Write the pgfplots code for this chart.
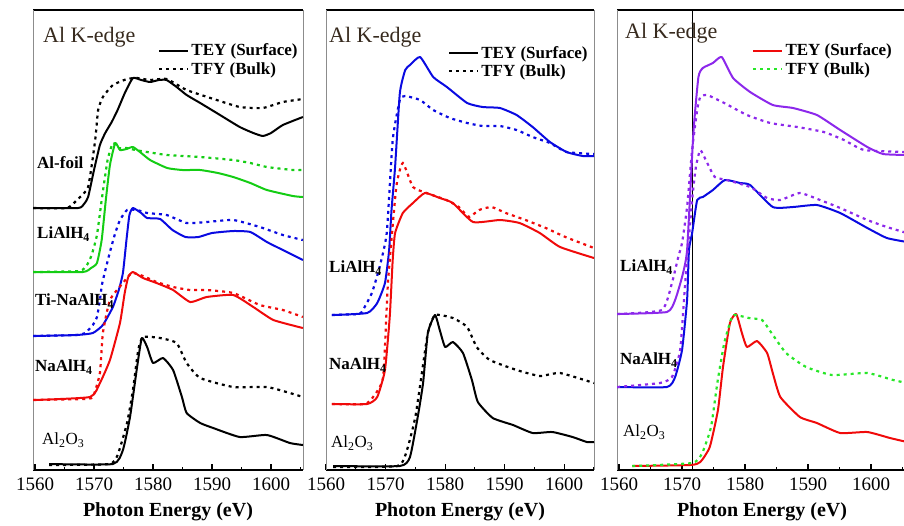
\documentclass[border=0pt]{standalone}
\usepackage{fontspec}
\setmainfont{Liberation Serif}
\usepackage{pgfplots}
\pgfplotsset{compat=1.18}

\definecolor{tgreen}{RGB}{20,205,20}
\definecolor{lgreen}{RGB}{40,230,40}
\definecolor{tblue}{RGB}{10,10,225}
\definecolor{tred}{RGB}{240,10,10}
\definecolor{tpurple}{RGB}{140,40,235}
\definecolor{titlecol}{RGB}{55,42,30}

\tikzset{
  tey/.style={line width=2pt, line join=round},
  tfy/.style={line width=2.2pt, dash pattern=on 3pt off 4pt},
}

\pgfplotsset{
  panel/.style={
    scale only axis, height=460pt, anchor=south west,
    y dir=reverse, ymin=10, ymax=470, ytick=\empty,
    xtick={1560,1570,...,1600}, minor xtick={1565,1575,...,1605},
    xtick pos=bottom, tick align=inside,
    major tick length=6pt, minor tick length=3.5pt,
    every tick/.style={black, line width=1.2pt},
    separate axis lines,
    x axis line style={line width=1.6pt, black},
    y axis line style={line width=0.6pt, black!45},
    /pgf/number format/assume math mode=true,
    /pgf/number format/1000 sep={},
    xticklabel style={font=\fontsize{19}{19}\selectfont, yshift=-4pt},
    xlabel={Photon Energy (eV)},
    xlabel style={font=\fontsize{20}{20}\selectfont\bfseries,
      at={(axis description cs:0.5,0)}, anchor=center, yshift=-42pt},
    legend style={draw=none, fill=none, font=\fontsize{17}{17}\selectfont\bfseries,
      inner sep=0pt, row sep=1pt, cells={anchor=west}, anchor=north west},
    legend image code/.code={\draw[#1] (0pt,0pt) -- (29pt,0pt);},
    every axis plot/.append style={smooth, tension=0.3},
  },
}

\begin{document}
\begin{tikzpicture}
\useasboundingbox (0,0) rectangle (904pt,-525pt);

% ---------------- left panel ----------------
\begin{axis}[panel, at={(33pt,-470pt)}, width=270pt, xmin=1559.66, xmax=1605.42,
  legend style={at={(axis description cs:0.463,0.931)}}]
\addlegendimage{tey, black}\addlegendentry{TEY (Surface)}
\addlegendimage{tfy, black}\addlegendentry{TFY (Bulk)}
% Al-foil
\addplot[tey, black] coordinates {(1559.7,208)(1567.3,208)(1568.3,204)(1569.0,197)(1570.0,170)(1571.0,145)(1571.9,133)(1573.0,122)(1574.0,110)(1575.3,92)(1576.6,78)(1578.0,80)(1579.5,82)(1581.0,80)(1582.3,80)(1584.0,87)(1585.7,95)(1588.0,103)(1590.8,113)(1594.7,127)(1597.0,133)(1598.6,136)(1600.0,133)(1602.0,125)(1605.4,117)};
\addplot[tfy, black] coordinates {(1559.7,208)(1565.4,208)(1567.1,200)(1569.0,187)(1570.2,140)(1570.7,110)(1571.5,97)(1573.2,85)(1575.6,79)(1577.3,78)(1579.5,80)(1582.3,79)(1585.7,90)(1590.8,100)(1594.7,107)(1598.6,108)(1602.0,102)(1605.4,99)};
% LiAlH4
\addplot[tey, tgreen] coordinates {(1559.7,272)(1568.1,272)(1569.5,268)(1570.5,263)(1571.3,240)(1572.0,200)(1572.7,165)(1573.6,143)(1574.4,150)(1575.5,149)(1576.6,147)(1578.0,153)(1579.5,160)(1582.4,168)(1585.0,170)(1588.0,170)(1591.0,173)(1593.6,177)(1596.5,183)(1599.3,190)(1603.7,196)(1605.4,197)};
\addplot[tfy, tgreen] coordinates {(1559.7,272)(1567.5,271)(1568.8,265)(1569.6,255)(1570.5,235)(1571.3,200)(1572.3,160)(1573.2,143)(1574.0,148)(1575.5,148)(1577.0,150)(1579.0,152)(1582.4,155)(1588.0,157)(1593.6,160)(1596.5,163)(1599.3,167)(1603.7,170)(1605.4,170)};
% Ti-NaAlH4
\addplot[tey, tblue] coordinates {(1559.7,336)(1567.0,335)(1569.8,333)(1571.5,325)(1573.2,307)(1574.2,290)(1574.9,273)(1575.5,240)(1576.0,215)(1576.6,208)(1578.0,213)(1579.0,218)(1581.2,219)(1583.3,230)(1585.5,237)(1587.7,237)(1590.0,233)(1593.6,231)(1596.5,232)(1599.3,242)(1602.0,250)(1605.4,260)};
\addplot[tfy, tblue] coordinates {(1559.7,336)(1567.0,335)(1568.5,333)(1569.8,325)(1570.5,317)(1571.0,300)(1571.4,283)(1572.7,252)(1573.6,233)(1574.4,220)(1575.6,210)(1577.3,210)(1579.0,213)(1582.3,215)(1585.7,223)(1589.1,222)(1593.6,220)(1598.1,227)(1602.0,235)(1605.4,240)};
% NaAlH4
\addplot[tey, tred] coordinates {(1559.7,400)(1569.3,397)(1571.0,383)(1572.7,360)(1574.4,323)(1575.2,293)(1575.8,277)(1576.6,272)(1578.3,278)(1580.6,283)(1583.4,290)(1586.3,302)(1589.1,297)(1593.6,295)(1597.0,307)(1600.4,320)(1605.4,328)};
\addplot[tfy, tred] coordinates {(1559.7,400)(1568.0,399)(1569.8,397)(1571.0,373)(1571.5,333)(1572.7,300)(1574.9,283)(1576.4,273)(1578.3,276)(1580.6,282)(1583.4,287)(1586.3,290)(1589.1,290)(1593.6,293)(1598.1,305)(1602.0,310)(1605.4,317)};
% Al2O3
\addplot[tey, black] coordinates {(1562.4,464)(1573.2,464)(1574.9,450)(1576.1,417)(1577.3,367)(1578.1,338)(1579.0,347)(1580.0,363)(1581.7,358)(1583.4,370)(1584.9,397)(1585.7,413)(1588.0,423)(1590.2,428)(1594.7,437)(1599.3,435)(1603.2,443)(1605.4,445)};
\addplot[tfy, black] coordinates {(1562.4,465)(1572.5,464)(1574.0,455)(1575.6,423)(1576.6,390)(1577.5,350)(1578.3,337)(1581.2,338)(1584.0,343)(1585.7,363)(1588.0,378)(1593.6,387)(1599.3,387)(1603.2,393)(1605.4,397)};
\end{axis}

% ---------------- middle panel ----------------
\begin{axis}[panel, at={(326pt,-470pt)}, width=268pt, xmin=1560, xmax=1605,
  legend style={at={(axis description cs:0.455,0.926)}}]
\addlegendimage{tey, black}\addlegendentry{TEY (Surface)}
\addlegendimage{tfy, black}\addlegendentry{TFY (Bulk)}
% LiAlH4
\addplot[tey, tblue] coordinates {(1561.0,315)(1566.9,313)(1568.6,303)(1569.9,283)(1570.6,250)(1571.0,210)(1571.6,167)(1572.4,93)(1573.3,70)(1574.1,65)(1575.8,57)(1578.0,77)(1580.3,87)(1583.7,103)(1586.3,107)(1589.2,108)(1592.0,115)(1594.7,127)(1597.6,142)(1600.4,152)(1603.1,156)(1605.0,156)};
\addplot[tfy, tblue] coordinates {(1561.0,315)(1565.5,314)(1566.2,310)(1567.7,293)(1569.0,267)(1570.2,233)(1571.2,140)(1572.4,100)(1573.3,96)(1575.8,100)(1578.0,110)(1580.8,118)(1583.7,123)(1586.3,126)(1589.2,126)(1592.0,130)(1594.7,137)(1597.6,143)(1600.4,152)(1605.0,154)};
% NaAlH4
\addplot[tey, tred] coordinates {(1561.0,404)(1566.9,404)(1568.6,397)(1569.9,370)(1570.7,317)(1571.2,260)(1571.6,233)(1572.9,213)(1574.6,203)(1576.6,193)(1579.1,198)(1581.3,203)(1584.7,222)(1589.2,220)(1592.5,223)(1595.9,233)(1599.3,247)(1605.0,258)};
\addplot[tfy, tred] coordinates {(1561.0,404)(1566.5,404)(1567.9,397)(1569.6,377)(1570.4,283)(1571.8,187)(1572.9,163)(1574.6,187)(1576.9,193)(1580.2,200)(1582.3,207)(1584.0,217)(1585.7,210)(1587.8,207)(1590.2,213)(1593.5,220)(1596.9,228)(1600.2,237)(1605.0,248)};
% Al2O3
\addplot[tey, black] coordinates {(1561.2,466)(1572.4,466)(1574.1,457)(1575.4,417)(1576.3,383)(1577.1,333)(1578.3,315)(1579.1,330)(1580.0,347)(1581.3,342)(1583.0,353)(1584.5,380)(1585.5,402)(1588.0,418)(1591.4,425)(1594.7,433)(1598.0,432)(1601.4,437)(1603.8,442)(1605.0,442)};
\addplot[tfy, black] coordinates {(1561.2,467)(1572.0,466)(1573.6,450)(1575.0,417)(1576.1,373)(1577.1,333)(1578.3,315)(1581.3,318)(1583.7,327)(1585.3,347)(1587.5,360)(1592.0,370)(1595.9,376)(1599.3,373)(1605.0,383)};
\end{axis}

% ---------------- right panel ----------------
\begin{axis}[panel, at={(617pt,-470pt)}, width=290pt, xmin=1559.68, xmax=1605.7,
  legend style={at={(axis description cs:0.466,0.931)}}]
\addlegendimage{tey, tred}\addlegendentry{TEY (Surface)}
\addlegendimage{tfy, lgreen}\addlegendentry{TFY (Bulk)}
% edge position marker
\addplot[black, line width=0.6pt, sharp plot] coordinates {(1571.6,10)(1571.6,470)};
% LiAlH4
\addplot[tey, tpurple] coordinates {(1559.7,314)(1567.6,312)(1568.9,300)(1570.0,277)(1570.8,250)(1571.8,133)(1572.6,77)(1573.3,68)(1574.9,63)(1576.3,57)(1578.1,78)(1580.8,92)(1584.4,105)(1587.6,108)(1591.4,115)(1595.1,130)(1599.4,147)(1601.9,154)(1605.7,155)};
\addplot[tfy, tpurple] coordinates {(1559.7,314)(1566.8,310)(1568.4,283)(1569.4,257)(1570.0,243)(1570.8,207)(1571.6,150)(1572.4,110)(1572.9,97)(1574.0,95)(1576.7,103)(1580.3,115)(1584.0,123)(1588.3,127)(1592.5,132)(1595.7,140)(1598.9,150)(1605.7,152)};
% NaAlH4
\addplot[tey, tblue] coordinates {(1559.7,387)(1567.6,387)(1568.9,377)(1570.0,350)(1570.8,300)(1571.1,250)(1571.6,233)(1572.4,200)(1573.3,197)(1574.9,190)(1576.8,180)(1579.2,183)(1580.8,185)(1584.4,207)(1587.6,207)(1591.4,205)(1595.1,213)(1599.4,228)(1602.5,238)(1605.7,242)};
\addplot[tfy, tpurple] coordinates {(1559.7,387)(1566.5,383)(1568.4,377)(1569.7,350)(1570.5,283)(1571.6,200)(1572.2,167)(1572.9,150)(1574.0,163)(1575.2,177)(1577.1,180)(1580.8,187)(1583.5,198)(1585.6,200)(1588.7,193)(1591.9,200)(1595.1,208)(1599.4,220)(1602.5,227)(1605.7,233)};
% Al2O3
\addplot[tey, tred] coordinates {(1562.1,466)(1571.3,465)(1572.9,462)(1574.4,447)(1575.7,410)(1576.5,367)(1577.6,323)(1578.6,314)(1579.5,333)(1580.3,347)(1581.9,341)(1583.5,353)(1584.4,373)(1585.6,397)(1588.7,417)(1591.4,423)(1595.1,433)(1599.4,432)(1603.0,438)(1605.7,442)};
\addplot[tfy, lgreen] coordinates {(1562.1,466)(1571.6,463)(1573.2,453)(1574.6,427)(1575.6,383)(1576.7,343)(1577.9,317)(1578.6,315)(1580.6,318)(1582.7,320)(1584.2,333)(1586.5,353)(1589.7,367)(1593.8,375)(1599.4,373)(1603.5,380)(1605.7,383)};
\end{axis}

% ---------------- panel titles and sample names ----------------
\begin{scope}[every node/.style={anchor=west, inner sep=0pt}]
\node[font=\fontsize{22}{22}\selectfont, text=titlecol] at (43pt,-37pt) {Al K-edge};
\node[font=\fontsize{22}{22}\selectfont, text=titlecol] at (329pt,-37pt) {Al K-edge};
\node[font=\fontsize{22}{22}\selectfont, text=titlecol] at (625pt,-33pt) {Al K-edge};

\begin{scope}[every node/.append style={font=\fontsize{17}{17}\selectfont\bfseries}]
\node at (37pt,-163pt) {Al-foil};
\node at (37pt,-234pt) {LiAlH\textsubscript{4}};
\node at (35pt,-301pt) {Ti-NaAlH\textsubscript{4}};
\node at (35pt,-367pt) {NaAlH\textsubscript{4}};
\node at (329pt,-268pt) {LiAlH\textsubscript{4}};
\node at (329pt,-365pt) {NaAlH\textsubscript{4}};
\node at (620pt,-267pt) {LiAlH\textsubscript{4}};
\node at (620pt,-360pt) {NaAlH\textsubscript{4}};
\end{scope}
\begin{scope}[every node/.append style={font=\fontsize{17}{17}\selectfont}]
\node at (42pt,-440pt) {Al\textsubscript{2}O\textsubscript{3}};
\node at (331pt,-443pt) {Al\textsubscript{2}O\textsubscript{3}};
\node at (623pt,-432pt) {Al\textsubscript{2}O\textsubscript{3}};
\end{scope}
\end{scope}
\end{tikzpicture}
\end{document}
